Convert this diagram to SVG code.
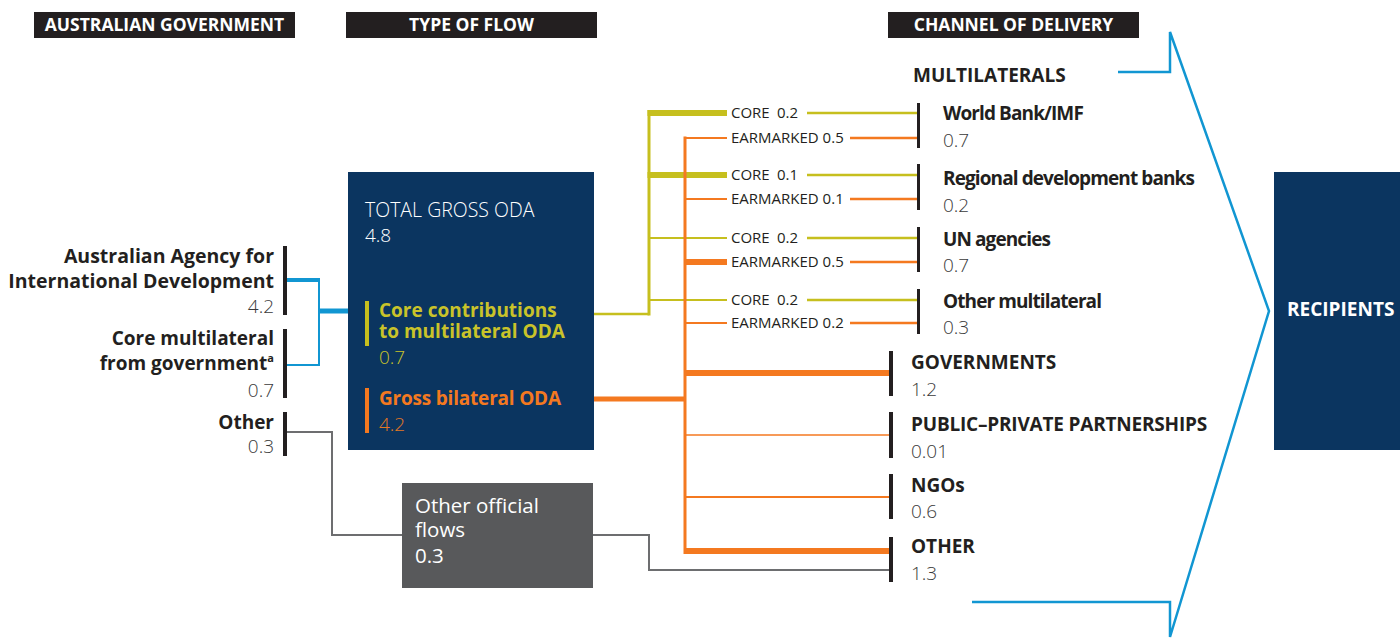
<svg xmlns="http://www.w3.org/2000/svg" width="1400" height="639" viewBox="0 0 1400 639">
<style>
text{font-family:"Open Sans","Liberation Sans",sans-serif}
.hdrbox{fill:#231f20}
.hdrt{font-weight:700;font-size:17.5px;fill:#fff;text-anchor:middle}
.lbl{font-weight:700;font-size:19px;fill:#231f20}
.tight{letter-spacing:-0.9px}
.num{font-weight:300;font-size:19px;fill:#3a3a3a}
.sm{font-weight:400;font-size:15px;fill:#231f20}
.end{text-anchor:end}
.wt{fill:#fff}
.bar{stroke:#231f20;stroke-width:4;fill:none}
.mbar{stroke:#231f20;stroke-width:3;fill:none}
.blue{stroke:#1196d2;fill:none}
.yel{stroke:#c6bf1e;fill:none}
.org{stroke:#f47920;fill:none}
.gry{stroke:#6d6e70;stroke-width:2;fill:none}
</style>
<rect width="1400" height="639" fill="#fff"/>

<g id="headers">
<rect class="hdrbox" x="34" y="12" width="261" height="26"/>
<text class="hdrt" x="164.5" y="31">AUSTRALIAN GOVERNMENT</text>
<rect class="hdrbox" x="346" y="12" width="251" height="26"/>
<text class="hdrt" x="471.5" y="31">TYPE OF FLOW</text>
<rect class="hdrbox" x="888" y="12" width="251" height="26"/>
<text class="hdrt" x="1013.5" y="31">CHANNEL OF DELIVERY</text>
</g>

<g id="connectors">
<path class="blue" stroke-width="4" d="M287 280H319"/>
<path class="blue" stroke-width="2" d="M287 365H319M319 278V366"/>
<path class="blue" stroke-width="5" d="M319 311H348"/>
<path class="gry" d="M287 432H332V535H402"/>
<path class="gry" d="M593 535H649V570H889"/>
<path class="yel" stroke-width="2.5" d="M576 314H649"/>
<path class="yel" stroke-width="3" d="M649 110V315.5"/>
<path class="yel" stroke-width="6" d="M647.5 113H727M647.5 175H727"/>
<path class="yel" stroke-width="2" d="M649 238H727M649 300H727"/>
<path class="yel" stroke-width="2.5" d="M807 113H917M807 175H917M807 238H917M807 300H917"/>
<path class="org" stroke-width="3" d="M685 136.5V554"/>
<path class="org" stroke-width="2" d="M685 138H727M685 199H727M685 323H727"/>
<path class="org" stroke-width="6" d="M685 262H727"/>
<path class="org" stroke-width="2.5" d="M850 138H917M850 199H917M850 262H917M850 323H917"/>
<path class="org" stroke-width="5" d="M572 399H686"/>
<path class="org" stroke-width="6" d="M685 373H889M685 551H889"/>
<path class="org" stroke-width="1.5" d="M685 435H889"/>
<path class="org" stroke-width="2" d="M685 497H889"/>
<path class="blue" stroke-width="2.5" d="M1118 72H1170V32L1269 311L1170 637V602H972"/>
</g>

<g id="flow-labels">
<text class="sm" x="731" y="118">CORE<tspan x="777">0.2</tspan></text>
<text class="sm" x="731" y="143">EARMARKED 0.5</text>
<text class="sm" x="731" y="180">CORE<tspan x="777">0.1</tspan></text>
<text class="sm" x="731" y="204">EARMARKED 0.1</text>
<text class="sm" x="731" y="243">CORE<tspan x="777">0.2</tspan></text>
<text class="sm" x="731" y="267">EARMARKED 0.5</text>
<text class="sm" x="731" y="305">CORE<tspan x="777">0.2</tspan></text>
<text class="sm" x="731" y="328">EARMARKED 0.2</text>
</g>

<g id="node-ausaid">
<path class="bar" d="M285 246V315"/>
<text class="lbl end" x="274" y="263" style="font-size:19.5px">Australian Agency for</text>
<text class="lbl end" x="274" y="288" style="font-size:19.5px">International Development</text>
<text class="num end" x="274" y="313">4.2</text>
</g>
<g id="node-core-gov">
<path class="bar" d="M285 329V398"/>
<text class="lbl end" x="274" y="345">Core multilateral</text>
<text class="lbl end" x="274" y="370">from government<tspan font-size="11" dy="-8">a</tspan></text>
<text class="num end" x="274" y="397">0.7</text>
</g>
<g id="node-other-gov">
<path class="bar" d="M285 412V456"/>
<text class="lbl end" x="274" y="429">Other</text>
<text class="num end" x="274" y="453">0.3</text>
</g>

<g id="node-total-oda">
<rect x="348" y="172" width="246" height="278" fill="#0b3560"/>
<text class="num wt" x="365" y="217" style="font-size:19.5px">TOTAL GROSS ODA</text>
<text class="num wt" x="365" y="242">4.8</text>
</g>
<g id="node-core-contrib">
<path d="M367 301V346" stroke="#c6bf1e" stroke-width="4"/>
<text class="lbl" x="379" y="317" style="fill:#c9c32a">Core contributions</text>
<text class="lbl" x="379" y="338" style="fill:#c9c32a">to multilateral ODA</text>
<text class="num" x="379" y="364" style="fill:#c9c32a">0.7</text>
</g>
<g id="node-bilateral">
<path d="M367 388V433" stroke="#f47920" stroke-width="4"/>
<text class="lbl" x="379" y="405" style="fill:#f47920;letter-spacing:-0.2px">Gross bilateral ODA</text>
<text class="num" x="379" y="431" style="fill:#e67822">4.2</text>
</g>
<g id="node-oof">
<rect x="402" y="483" width="191" height="105" fill="#58595b"/>
<text class="num wt" x="415" y="513" style="font-weight:400;font-size:20.5px">Other official</text>
<text class="num wt" x="415" y="537" style="font-weight:400;font-size:20.5px">flows</text>
<text class="num wt" x="415" y="563" style="font-weight:400;font-size:20.5px">0.3</text>
</g>

<g id="node-multilaterals">
<text class="lbl" x="913" y="82">MULTILATERALS</text>
</g>
<g id="node-wb">
<path class="mbar" d="M918.5 103V148"/>
<text class="lbl tight" x="943" y="120">World Bank/IMF</text>
<text class="num" x="943" y="147">0.7</text>
</g>
<g id="node-rdb">
<path class="mbar" d="M918.5 164V210"/>
<text class="lbl tight" x="943" y="185">Regional development banks</text>
<text class="num" x="943" y="212">0.2</text>
</g>
<g id="node-un">
<path class="mbar" d="M918.5 227V272"/>
<text class="lbl tight" x="943" y="246">UN agencies</text>
<text class="num" x="943" y="272">0.7</text>
</g>
<g id="node-othermulti">
<path class="mbar" d="M918.5 289V334"/>
<text class="lbl tight" x="943" y="308">Other multilateral</text>
<text class="num" x="943" y="334">0.3</text>
</g>
<g id="node-governments">
<path class="bar" d="M891 351V396"/>
<text class="lbl" x="911" y="369">GOVERNMENTS</text>
<text class="num" x="911" y="396">1.2</text>
</g>
<g id="node-ppp">
<path class="bar" d="M891 412V458"/>
<text class="lbl" x="911" y="431" style="letter-spacing:-0.2px">PUBLIC–PRIVATE PARTNERSHIPS</text>
<text class="num" x="911" y="458">0.01</text>
</g>
<g id="node-ngos">
<path class="bar" d="M891 474V519"/>
<text class="lbl" x="911" y="492">NGOs</text>
<text class="num" x="911" y="518">0.6</text>
</g>
<g id="node-other-channel">
<path class="bar" d="M891 537V582"/>
<text class="lbl" x="911" y="553">OTHER</text>
<text class="num" x="911" y="580">1.3</text>
</g>

<g id="node-recipients">
<rect x="1274" y="172" width="126" height="278" fill="#0b3560"/>
<text class="lbl" x="1287" y="316" style="fill:#fff">RECIPIENTS</text>
</g>
</svg>
